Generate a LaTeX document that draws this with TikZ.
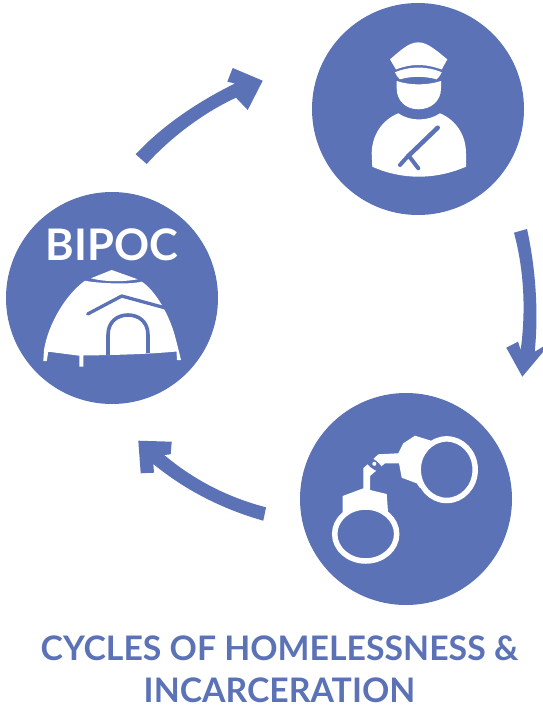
\documentclass[tikz,border=0pt]{standalone}
\usepackage{fontspec}
\setmainfont{Lato}
\definecolor{bl}{HTML}{5B72B7}
\tikzset{
 disc/.style={circle,fill=bl,minimum size=#1,inner sep=0pt,text=white},
 head/.style={fill=bl,draw=none},
 ink/.style={fill=white,draw=none},
 cutline/.style={draw=bl,line width=#1,line cap=round,line join=round},
 ringline/.style={fill=bl,draw=white,line width=5.5pt},
 title/.style={text=bl,font=\fontsize{33.8}{42}\selectfont\bfseries,align=center,inner sep=0pt}
}
\begin{document}
\begin{tikzpicture}[x=1pt,y=-1pt]
\useasboundingbox[fill=white] (0,0) rectangle (543,709);
\node[disc=212pt] (police) at (418,109) {};
\node[disc=212pt] (bipoc) at (112,298) {};
\node[disc=212pt] (cuffs) at (406,499) {};
% arrows
\fill[head] (135.7,154.3) .. controls (160,128) and (195,103) .. (235,83.5) -- (227.3,81.7) -- (232.7,68) -- (262.7,80.7) -- (247.7,110) -- (236,97.7) .. controls (205,112) and (172,136) .. (146.7,164) -- cycle;
\fill[head] (514,232.7) -- (527,229) .. controls (535,265) and (539,310) .. (534.7,351.7) -- (543,346.7) -- (543,352) -- (522.3,376.7) -- (506.3,347.7) -- (518,341.7) -- (520.7,350) .. controls (526,310) and (524,270) .. (514,232.7) -- cycle;
\fill[head] (266,507.3) -- (263.3,520.7) .. controls (222,509) and (185,490) .. (153.3,464) -- (154,472.7) -- (140.7,473.3) -- (138.3,440.7) -- (171.7,441.7) -- (170.7,454.3) -- (164.3,455) .. controls (195,481) and (230,498) .. (266,507.3) -- cycle;
% police
\fill[ink] (418.3,42.3) .. controls (428,42.3) and (438,52) .. (447.3,59.3) -- (441.7,69.5) .. controls (425,63.5) and (411,63.5) .. (396,69.5) -- (390,59.3) .. controls (399,52) and (408,42.3) .. (418.3,42.3) -- cycle;
\fill[ink] (395,72.3) .. controls (410,66) and (427,66) .. (441.7,72.3) .. controls (440,76) and (438,78) .. (436.7,79.3) .. controls (424,76) and (412,76) .. (400,79.3) .. controls (398,78) and (396,75) .. (395,72.3) -- cycle;
\fill[ink] (396.7,81) .. controls (410,85.5) and (427,85.5) .. (441,81) -- (441,88.3) .. controls (441,101) and (431,109.3) .. (418.5,109.3) .. controls (406,109.3) and (396.7,101) .. (396.7,88.3) -- cycle;
\fill[ink] (398.3,113.3) .. controls (410,121.5) and (428,121.5) .. (440,113.3) .. controls (456,120) and (466,135) .. (466,153.3) -- (466,166.7) .. controls (435,180) and (402,180) .. (372.3,166.7) -- (371.7,153.3) .. controls (372,135) and (382,120) .. (398.3,113.3) -- cycle;
\draw[cutline=4.5pt] (437.7,127.7) -- (408.3,156);
\draw[cutline=4pt] (400,165) -- (408.5,155.5) -- (418.3,168.3);
% tent
\fill[ink] (91,278.3) -- (111.7,270) -- (137.7,279.3) .. controls (122,282) and (105,282) .. (91,278.3) -- cycle;
\fill[ink] (85,280.7) .. controls (95,283) and (128,285) .. (141.7,281.7) .. controls (155,290) and (170,315) .. (176,340) -- (181,360) -- (177,360) -- (176.5,351.5) .. controls (150,354) and (120,355) .. (83.3,355.5) -- (83.3,366.7) -- (79.3,366.7) -- (79.3,355.7) -- (48.3,351.7) -- (46.7,361) -- (43.3,361) -- (44,350) .. controls (48,325) and (65,295) .. (85,280.7) -- cycle;
\draw[cutline=3.3pt] (87.7,314) -- (121.7,296) -- (166.7,308.3);
\draw[draw=bl,line width=3.6pt] (108,355) -- (108,335) .. controls (108,322) and (117,315) .. (128,315) .. controls (139,315) and (148,322) .. (148,335) -- (148,353);
\node[text=white,font=\fontsize{43.5}{44}\selectfont\bfseries,inner sep=0pt] (bipoclabel) at (112,245) {BIPOC};
% cuffs
\fill[ink] (398.3,453.3) -- (403.3,443.3) -- (415,435.7) -- (432,441) -- (435,470) -- (420,488) -- (416.7,483.3) -- (401.7,477.7) -- (399,463.3) -- (385,463.3) -- (370,476) -- (370,490) -- (386.7,494) -- (388.3,516) -- (342.7,516) -- (342.7,496) -- (363.3,488.3) -- (363.3,468.3) -- (378.3,454.3) -- cycle;
\draw[ringline] (446.7,469.7) circle[x radius=28.5pt,y radius=30.8pt];
\draw[ringline] (365.7,534) circle[x radius=31pt,y radius=27pt];
\fill[bl,rotate around={-38:(373.7,464.3)}] (373.7,464.3) ellipse[x radius=11pt,y radius=4.2pt];
\fill[white] (374.3,463.8) circle[radius=2pt];
% title
\node[title] (caption) at (279.5,669) {CYCLES OF HOMELESSNESS \&\\INCARCERATION};
\end{tikzpicture}
\end{document}
